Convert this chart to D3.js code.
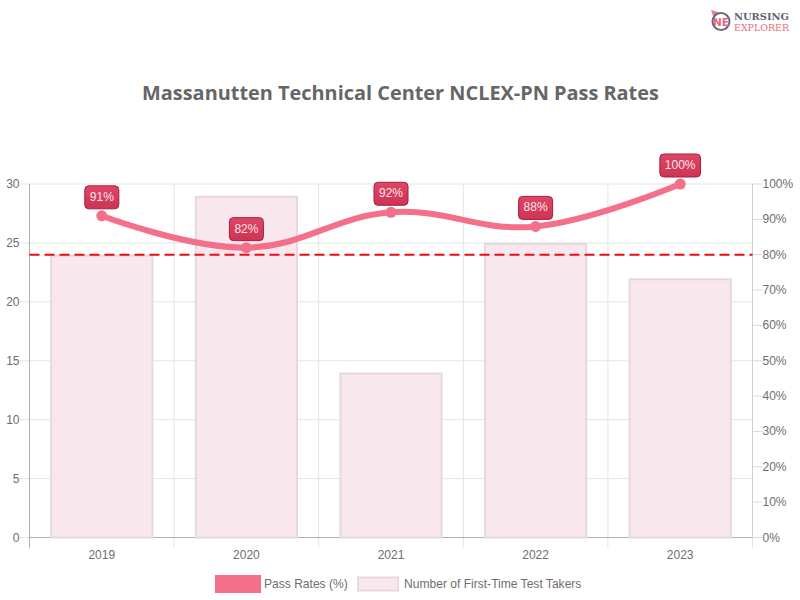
<!DOCTYPE html>
<html><head><meta charset="utf-8">
<script src="https://cdn.jsdelivr.net/npm/d3@7/dist/d3.min.js"></script>
<style>html,body{margin:0;background:#fff}svg{display:block}text{font-family:"Liberation Sans",Arial,sans-serif}</style>
</head><body><div id="c"></div>
<script>
const years = ["2019","2020","2021","2022","2023"];
const passRates = [91,82,92,88,100];
const testTakers = [24,29,14,25,22];
const leftTicks = [0,5,10,15,20,25,30];
const rightTicks = [0,10,20,30,40,50,60,70,80,90,100];
const benchmark = 80;
const titleText = "Massanutten Technical Center NCLEX-PN Pass Rates";
const legendLabels = ["Pass Rates (%)","Number of First-Time Test Takers"];

const W=800,H=600,L=29.5,R=752.5,T=184,B=537.5;
const svg=d3.select("#c").append("svg").attr("width",W).attr("height",H);
const x=d3.scaleBand().domain(years).range([L,R]);
const yL=d3.scaleLinear().domain([0,30]).range([B,T]);
const yR=d3.scaleLinear().domain([0,100]).range([B,T]);
const textCol="#6e6e6e", gridCol="#e4e4e4";

const defs=svg.append("defs");
const g=defs.append("linearGradient").attr("id","lab").attr("x1",0).attr("x2",0).attr("y1",0).attr("y2",1);
g.append("stop").attr("offset","0%").attr("stop-color","#dc4766");
g.append("stop").attr("offset","100%").attr("stop-color","#cf3354");

// logo
const logo=svg.append("g");
logo.append("path").attr("d","M711 10 L721 13 L714 19 Z").attr("fill","#ec7a8c");
logo.append("circle").attr("cx",721).attr("cy",21.5).attr("r",8.5).attr("fill","#fff").attr("stroke","#666a78").attr("stroke-width",2);
logo.append("text").attr("x",721).attr("y",25.5).attr("text-anchor","middle").attr("font-size",10.5).attr("font-weight",700).attr("fill","#e56a7e").style("font-family","'DejaVu Sans',sans-serif").text("NE");
logo.append("text").attr("x",734).attr("y",20).attr("font-size",10).attr("font-weight",700).attr("fill","#5f6372").style("font-family","'DejaVu Serif',serif").attr("textLength",55).attr("lengthAdjust","spacingAndGlyphs").text("NURSING");
logo.append("text").attr("x",734).attr("y",30.5).attr("font-size",9.5).attr("fill","#e56a7e").style("font-family","'DejaVu Serif',serif").attr("textLength",55).attr("lengthAdjust","spacingAndGlyphs").text("EXPLORER");

svg.append("text").attr("x",400.5).attr("y",100).attr("text-anchor","middle").attr("font-size",19.9).attr("font-weight",700).attr("fill","#666").style("font-family","'Open Sans',sans-serif").text(titleText);

// grid
const grid=svg.append("g");
grid.selectAll(".h").data(leftTicks).join("line").attr("x1",L-10).attr("x2",R).attr("y1",d=>yL(d)).attr("y2",d=>yL(d)).attr("stroke",gridCol);
const bandEdges=years.map(d=>x(d)).concat([R]);
grid.selectAll(".v").data(bandEdges).join("line").attr("x1",d=>d).attr("x2",d=>d).attr("y1",T).attr("y2",B+10).attr("stroke",gridCol);
grid.selectAll(".r").data(rightTicks).join("line").attr("x1",R).attr("x2",R+10).attr("y1",d=>yR(d)).attr("y2",d=>yR(d)).attr("stroke","#d8d8d8");
svg.append("line").attr("x1",L).attr("x2",L).attr("y1",T).attr("y2",B+10).attr("stroke","#b0b0b0");
svg.append("line").attr("x1",R).attr("x2",R).attr("y1",T).attr("y2",B).attr("stroke","#cfcfcf");
svg.append("line").attr("x1",L).attr("x2",R).attr("y1",B).attr("y2",B).attr("stroke","#b0b0b0");

// axis labels
svg.selectAll(".tl").data(leftTicks).join("text").attr("x",L-10).attr("y",d=>yL(d)+4).attr("text-anchor","end").attr("font-size",12).attr("fill",textCol).text(d=>d);
svg.selectAll(".tr").data(rightTicks).join("text").attr("x",R+10).attr("y",d=>yR(d)+4).attr("font-size",12).attr("fill",textCol).text(d=>d+"%");
svg.selectAll(".tx").data(years).join("text").attr("x",d=>x(d)+x.bandwidth()/2).attr("y",559).attr("text-anchor","middle").attr("font-size",12).attr("fill",textCol).text(d=>d);

// bars (border drawn inside the bar's box)
const bw=x.bandwidth()*0.7;
svg.selectAll(".bar").data(years).join("rect")
 .attr("x",d=>x(d)+x.bandwidth()/2-bw/2).attr("width",bw)
 .attr("y",(d,i)=>yL(testTakers[i])+1).attr("height",(d,i)=>B-yL(testTakers[i])-1)
 .attr("fill","#f8e8ee").attr("stroke","#e6d8de").attr("stroke-width",2);

// benchmark
svg.append("line").attr("x1",L).attr("x2",R).attr("y1",yR(benchmark)).attr("y2",yR(benchmark)).attr("stroke","#ee0a14").attr("stroke-width",2).attr("stroke-dasharray","10 5");

// line
const pts=years.map((d,i)=>[x(d)+x.bandwidth()/2,yR(passRates[i])]);
svg.append("path").attr("d",d3.line().curve(d3.curveCardinal.tension(-0.2))(pts)).attr("fill","none").attr("stroke","#f4708a").attr("stroke-width",6);
svg.selectAll(".pt").data(pts).join("circle").attr("cx",d=>d[0]).attr("cy",d=>d[1]).attr("r",5.5).attr("fill","#f4708a");

// labels
pts.forEach((p,i)=>{
 const gg=svg.append("g");
 const r=gg.append("rect");
 const t=gg.append("text").attr("x",p[0]).attr("y",p[1]-15).attr("text-anchor","middle").attr("font-size",12).attr("fill","#fbe4e9").text(passRates[i]+"%");
 const w=t.node().getComputedTextLength()+10;
 r.attr("x",p[0]-w/2).attr("y",p[1]-30).attr("width",w).attr("height",23).attr("rx",4).attr("fill","url(#lab)").attr("stroke","#a4203f");
});

// legend
svg.append("rect").attr("x",215).attr("y",575).attr("width",46).attr("height",18).attr("fill","#f4708a");
svg.append("text").attr("x",264).attr("y",588).attr("font-size",12.05).attr("fill",textCol).text(legendLabels[0]);
svg.append("rect").attr("x",358).attr("y",577.5).attr("width",40).attr("height",13).attr("fill","#f8e8ee").attr("stroke","#e6d8de").attr("stroke-width",2);
svg.append("text").attr("x",404).attr("y",588).attr("font-size",12.07).attr("fill",textCol).text(legendLabels[1]);
</script></body></html>
